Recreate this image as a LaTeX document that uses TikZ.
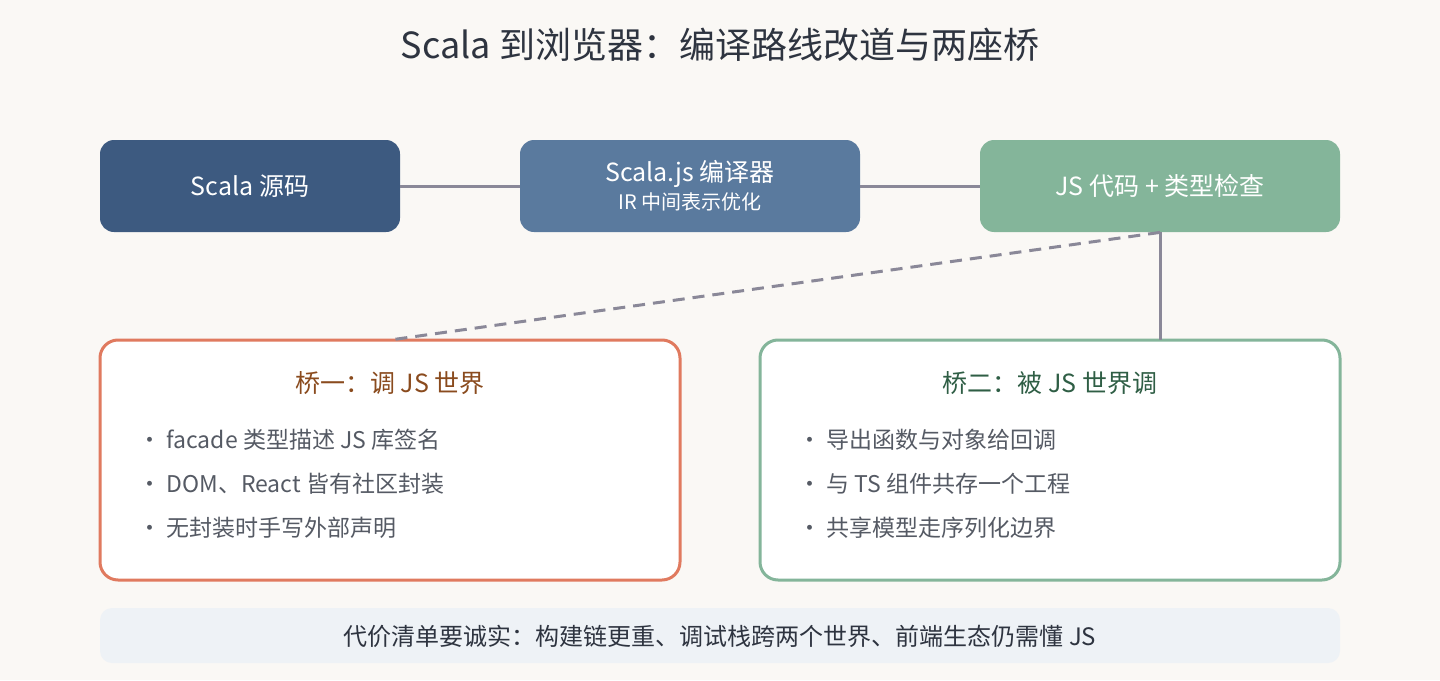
\documentclass[tikz,border=0pt]{standalone}
\usepackage{fontspec}
\setmainfont{Noto Sans CJK SC}
\usetikzlibrary{positioning}
\definecolor{bgc}{HTML}{FAF8F5}
\definecolor{ink}{HTML}{2E3440}
\definecolor{navy}{HTML}{3D5A80}
\definecolor{steel}{HTML}{5A7A9E}
\definecolor{sage}{HTML}{84B59A}
\definecolor{coral}{HTML}{E07A5F}
\definecolor{wire}{HTML}{8A8898}
\definecolor{brownt}{HTML}{8A4B1E}
\definecolor{greent}{HTML}{2F5E45}
\definecolor{bodyt}{HTML}{555A64}
\definecolor{barc}{HTML}{EEF2F6}
\tikzset{
  stage/.style={rounded corners=7pt, minimum height=46pt, text=white, font=\fontsize{12.5}{15}\selectfont, align=center, inner sep=0pt},
  panel/.style={rounded corners=9pt, fill=white, line width=1.5pt},
  wire/.style={draw=wire, line width=1.5pt},
  bullet/.style={anchor=west, text=bodyt, font=\fontsize{11.5}{14}\selectfont, inner sep=0pt},
  ptitle/.style={font=\fontsize{12.5}{15}\selectfont, inner sep=0pt}
}
\begin{document}
\begin{tikzpicture}[x=0.5pt, y=-0.5pt]
        % Canvas
        \fill[bgc] (0,0) rectangle (1440,680);
        \useasboundingbox (0,0) rectangle (1440,680);
        \node[text=ink, font=\fontsize{18}{22}\selectfont] (title) at (720,45) {Scala 到浏览器：编译路线改道与两座桥};
        
        % Pipeline
        \node[stage, fill=navy, minimum width=150pt] (src) at (250,186) {Scala 源码};
        \node[stage, fill=steel, minimum width=170pt] (comp) at (690,186) {Scala.js 编译器\\[-1pt]{\fontsize{10}{12}\selectfont IR 中间表示优化}};
        \node[stage, fill=sage, minimum width=180pt] (js) at (1160,186) {JS 代码 + 类型检查};
        \draw[wire] (src) -- (comp);
        \draw[wire] (comp) -- (js);
        
        % Bridges
        \draw[panel, draw=coral] (100,340) rectangle (680,580);
        \draw[panel, draw=sage] (760,340) rectangle (1340,580);
        \coordinate (lt) at (390,340);
        \coordinate (rt) at (1160,340);
        \draw[wire, dash pattern=on 6pt off 4pt] (js.south) -- (lt);
        \draw[wire] (js.south) -- (rt);
        
        \node[ptitle, text=brownt] (b1) at (390,383) {桥一：调 JS 世界};
        \node[bullet] (b1a) at (138,440) {· facade 类型描述 JS 库签名};
        \node[bullet] (b1b) at (138,484) {· DOM、React 皆有社区封装};
        \node[bullet] (b1c) at (138,528) {· 无封装时手写外部声明};
        
        \node[ptitle, text=greent] (b2) at (1050,383) {桥二：被 JS 世界调};
        \node[bullet] (b2a) at (798,440) {· 导出函数与对象给回调};
        \node[bullet] (b2b) at (798,484) {· 与 TS 组件共存一个工程};
        \node[bullet] (b2c) at (798,528) {· 共享模型走序列化边界};
        
        % Cost bar
        \fill[barc, rounded corners=6pt] (100,608) rectangle (1340,663);
        \node[text=ink, font=\fontsize{12}{14}\selectfont] (cost) at (720,636) {代价清单要诚实：构建链更重、调试栈跨两个世界、前端生态仍需懂 JS};
\end{tikzpicture}
\end{document}
